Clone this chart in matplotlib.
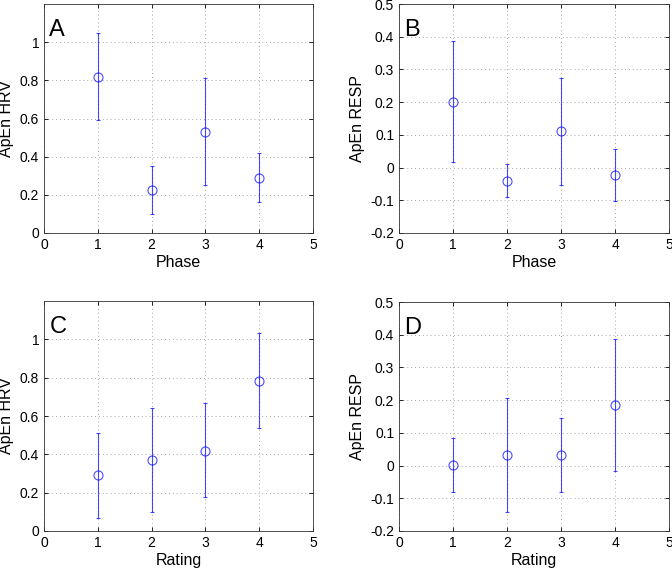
import matplotlib
matplotlib.use('Agg')
import matplotlib.pyplot as plt
import numpy as np

plt.rcParams['font.family'] = ['Liberation Sans', 'DejaVu Sans']

x = [1, 2, 3, 4]

# panel A: ApEn HRV by phase
hrv_phase = [0.82, 0.225, 0.53, 0.29]
hrv_phase_lo = [0.59, 0.10, 0.25, 0.16]
hrv_phase_hi = [1.05, 0.35, 0.81, 0.42]

# panel B: ApEn RESP by phase
resp_phase = [0.20, -0.04, 0.111, -0.022]
resp_phase_lo = [0.016, -0.089, -0.052, -0.103]
resp_phase_hi = [0.387, 0.010, 0.273, 0.057]

# panel C: ApEn HRV by rating
hrv_rating = [0.29, 0.37, 0.42, 0.785]
hrv_rating_lo = [0.07, 0.10, 0.18, 0.535]
hrv_rating_hi = [0.51, 0.64, 0.67, 1.035]

# panel D: ApEn RESP by rating
resp_rating = [0.003, 0.033, 0.032, 0.185]
resp_rating_lo = [-0.081, -0.141, -0.081, -0.017]
resp_rating_hi = [0.085, 0.207, 0.145, 0.387]

W, H = 672, 568
fig = plt.figure(figsize=(W / 100, H / 100), dpi=100)


def panel(rect, letter, means, lo, hi, xlabel, ylabel, ylim, yticks):
    l, t, r, b = rect
    ax = fig.add_axes([l / W, 1 - b / H, (r - l) / W, (b - t) / H])
    means = np.array(means)
    err = [means - np.array(lo), np.array(hi) - means]
    ax.errorbar(x, means, yerr=err, fmt='o', color='#0000ff', mfc='none',
                mec='#0000ff', ms=6.5, mew=0.8, elinewidth=0.8, capsize=1.5,
                capthick=0.8, alpha=0.7)
    ax.set_xlim(0, 5)
    ax.set_ylim(*ylim)
    ax.set_xticks([0, 1, 2, 3, 4, 5])
    ax.set_yticks(yticks)
    ax.set_yticklabels(['%g' % v if v != 0 else '0' for v in yticks])
    ax.grid(True, linestyle=(0, (1, 3)), color='#a8a8a8', linewidth=0.7)
    ax.tick_params(direction='in', top=True, right=True, labelsize=10,
                   length=3, width=0.6)
    for s in ax.spines.values():
        s.set_linewidth(0.6)
        s.set_color('#333333')
    ax.set_xlabel(xlabel, fontsize=11.5, labelpad=2)
    ax.set_ylabel(ylabel, fontsize=11.5, labelpad=4)
    ax.text(0.02, 0.935, letter, transform=ax.transAxes, fontsize=17,
            va='top', ha='left')
    return ax


hrv_ticks = [0, 0.2, 0.4, 0.6, 0.8, 1]
resp_ticks = [-0.2, -0.1, 0, 0.1, 0.2, 0.3, 0.4, 0.5]

panel((44, 4, 313, 233), 'A', hrv_phase, hrv_phase_lo, hrv_phase_hi,
      'Phase', 'ApEn HRV', (0, 1.2), hrv_ticks)
panel((399, 4, 669, 233), 'B', resp_phase, resp_phase_lo, resp_phase_hi,
      'Phase', 'ApEn RESP', (-0.2, 0.5), resp_ticks)
panel((44, 301, 313, 531), 'C', hrv_rating, hrv_rating_lo, hrv_rating_hi,
      'Rating', 'ApEn HRV', (0, 1.2), hrv_ticks)
panel((399, 302, 669, 531), 'D', resp_rating, resp_rating_lo, resp_rating_hi,
      'Rating', 'ApEn RESP', (-0.2, 0.5), resp_ticks)

fig.savefig('out.png', dpi=100)
